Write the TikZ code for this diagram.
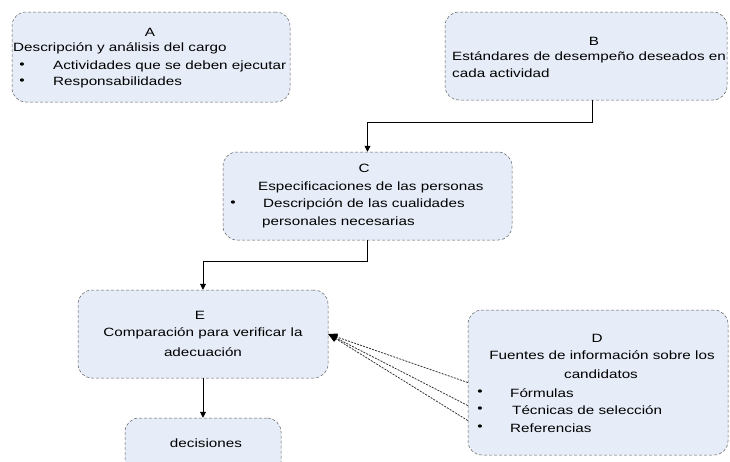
\documentclass[tikz,border=0pt]{standalone}
\usepackage{fontspec}
\setmainfont[FakeStretch=1.27]{Liberation Sans}
\usetikzlibrary{arrows.meta,calc}
\definecolor{boxfill}{RGB}{231,237,248}
\definecolor{edgegray}{RGB}{95,95,95}
\begin{document}
\begin{tikzpicture}[x=1pt,y=-1pt,
  box/.style={draw=edgegray, densely dashed, line width=0.5pt, fill=boxfill, rounded corners=14pt, inner sep=0pt},
  txt/.style={inner sep=0pt, font=\fontsize{12}{16}\selectfont},
  conn/.style={draw=black, line width=0.9pt, -{Triangle[length=6pt,width=6pt]}},
  dconn/.style={draw=black!80, line width=0.8pt, dash pattern=on 2pt off 1.2pt, -{Triangle[length=9pt,width=7pt,fill=black,color=black]}}]
\clip (0,0) rectangle (730,461);
\fill[white] (0,0) rectangle (730,461);

% boxes
\node[box, minimum width=278pt, minimum height=90pt] (bA) at (151,57) {};
\node[box, minimum width=282pt, minimum height=88pt] (bB) at (586,56) {};
\node[box, minimum width=289pt, minimum height=88pt] (bC) at (367.5,196) {};
\node[box, minimum width=250pt, minimum height=88pt] (bE) at (203,334) {};
\node[box, minimum width=260pt, minimum height=145pt] (bD) at (598,382.5) {};
\node[box, minimum width=156pt, minimum height=58pt] (bDec) at (203,447) {};

% texts A
\node[txt] (tA) at (150,32) {A};
\node[txt, anchor=west] (tA1) at (13,48) {Descripción y análisis del cargo};
\node[txt] (tAb1) at (22,66) {•};
\node[txt, anchor=west] (tA2) at (53,66) {Actividades que se deben ejecutar};
\node[txt] (tAb2) at (22,82) {•};
\node[txt, anchor=west] (tA3) at (53,82) {Responsabilidades};

% texts B
\node[txt] (tB) at (594,41) {B};
\node[txt, anchor=west] (tB1) at (452,57) {Estándares de desempeño deseados en};
\node[txt, anchor=west] (tB2) at (452,73) {cada actividad};

% texts C
\node[txt] (tC) at (364,168) {C};
\node[txt, anchor=west] (tC1) at (258,187) {Especificaciones de las personas};
\node[txt] (tCb) at (233,204) {•};
\node[txt, anchor=west] (tC2) at (263,204) {Descripción de las cualidades};
\node[txt, anchor=west] (tC3) at (262,222) {personales necesarias};

% texts E
\node[txt] (tE) at (200,315) {E};
\node[txt] (tE1) at (203,333) {Comparación para verificar la};
\node[txt] (tE2) at (203,352) {adecuación};

% texts D
\node[txt] (tD) at (597,338) {D};
\node[txt] (tD1) at (602,355) {Fuentes de información sobre los};
\node[txt] (tD2) at (601,374) {candidatos};
\node[txt] (tDb1) at (480,393) {•};
\node[txt, anchor=west] (tD3) at (510,393) {Fórmulas};
\node[txt] (tDb2) at (480,410) {•};
\node[txt, anchor=west] (tD4) at (512,410) {Técnicas de selección};
\node[txt] (tDb3) at (480,428) {•};
\node[txt, anchor=west] (tD5) at (510,428) {Referencias};

% decisiones
\node[txt] (tDec) at (206,443) {decisiones};

% connectors
\coordinate (bBout) at ($(bB.south)+(6,0)$);
\draw[conn] (bBout) -- ++(0,22) -| (bC.north);
\draw[conn] (bC.south) -- ++(0,21) -| (bE.north);
\draw[conn] (bE.south) -- (bDec.north);

\coordinate (d1) at (bD.west);
\coordinate (d2) at ($(bD.west)+(0,23)$);
\coordinate (d3) at ($(bD.west)+(0,38)$);
\draw[dconn] (d1) -- (bE.east);
\draw[dconn] (d2) -- (bE.east);
\draw[dconn] (d3) -- (bE.east);
\end{tikzpicture}
\end{document}
